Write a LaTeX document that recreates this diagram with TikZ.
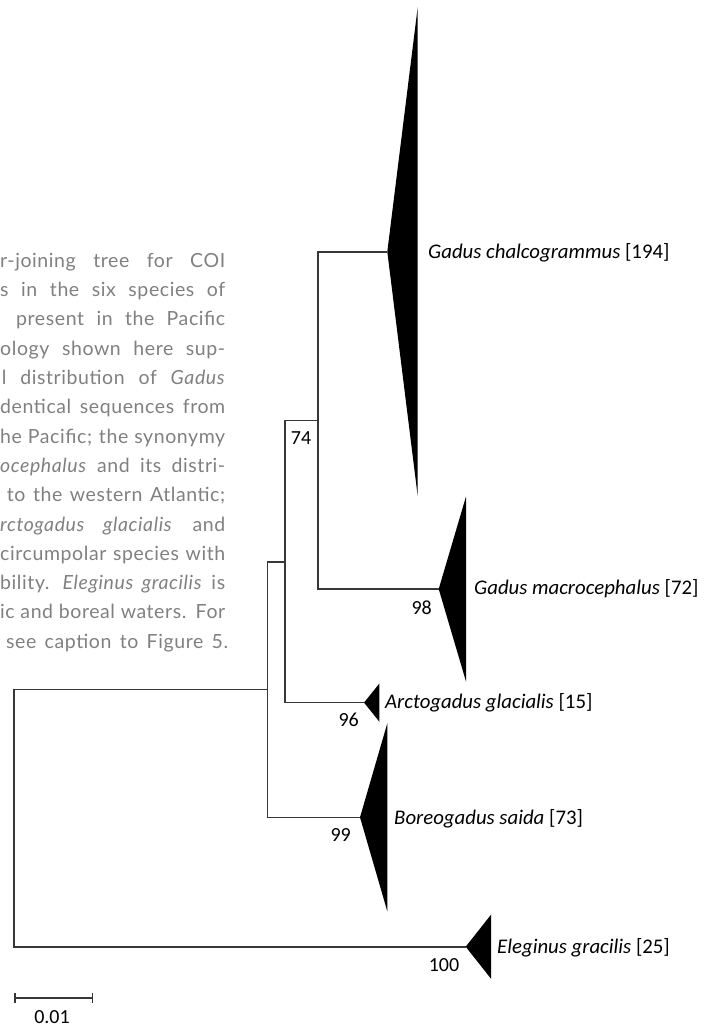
\documentclass[tikz,border=0pt]{standalone}
\usepackage{fontspec}
\setmainfont{Carlito}
\newfontfamily\capfont[LetterSpace=3,WordSpace=1.5]{Lato}
\usetikzlibrary{positioning}
\definecolor{capgrey}{RGB}{128,128,128}
\definecolor{branchgrey}{RGB}{55,55,55}
\tikzstyle{branch} = [draw=branchgrey, line width=1.6pt]
\tikzstyle{clade} = [fill=black]
\tikzstyle{taxon} = [anchor=base west, inner sep=0pt, font=\fontsize{20.8}{24}\selectfont]
\tikzstyle{boot} = [anchor=base, inner sep=0pt, font=\fontsize{20}{24}\selectfont]
\tikzstyle{capline} = [anchor=base west, inner sep=0pt, text=capgrey, font=\capfont\fontsize{19.5}{24}\selectfont]

\begin{document}
\begin{tikzpicture}[x=1pt,y=-1pt]
        \useasboundingbox (0,0) rectangle (716,1028);

        \foreach \i/\x/\t [evaluate=\x as \w using 225-\x] in {1/0/r-joining tree for COI,
                2/0/s in the six species of, 3/16/present in the Pacific,
                4/0/ology shown here sup-, 5/1.7/l distribution of \textit{Gadus},
                6/0/dentical sequences from, 7/0/he Pacific; the synonymy,
                8/0/\textit{ocephalus} and its distri-, 9/6.7/to the western Atlantic;,
                10/0/\textit{rctogadus glacialis} and, 11/0/circumpolar species with,
                12/0/bility. \textit{Eleginus gracilis} is, 13/0/ic and boreal waters. For}
        \node[capline] (Cap\i) at (\x,{267.3+29.3*(\i-1)}) {\makebox[\w pt][s]{\t}};
        \node[capline] (Cap14) at (0,648.2) {\makebox[228pt][r]{see caption to Figure 5.}};

        \coordinate (Root) at (14,818.2);
        \coordinate (NodeA) at (267.3,689.5);
        \coordinate (NodeB) at (284.7,561.7);
        \coordinate (NodeC) at (318,420.4);

        \coordinate (Chalco) at (387.3,251.7);
        \coordinate (Macro) at (438.7,589);
        \coordinate (Glacialis) at (364,702.6);
        \coordinate (Saida) at (360,817.3);
        \coordinate (Gracilis) at (465.7,946.7);

        \foreach \a/\b in {Root/NodeA, Root/Gracilis, NodeA/NodeB, NodeA/Saida,
                NodeB/NodeC, NodeB/Glacialis, NodeC/Chalco, NodeC/Macro}
        \draw[branch] (\a) |- (\b);

        \foreach \n/\w/\h in {Chalco/30.4/244.5, Macro/27.3/92.5, Glacialis/15.3/19,
                Saida/27.3/94, Gracilis/25.3/32}
        \fill[clade] (\n) -- ++(\w,-\h) -- ++(0,{2*\h}) -- cycle;

        \node[taxon] (ChalcoName) at (428,258.5) {\textit{Gadus chalcogrammus} [194]};
        \node[taxon] (MacroName) at (474,594) {\textit{Gadus macrocephalus} [72]};
        \node[taxon] (GlacialisName) at (385,708.3) {\textit{Arctogadus glacialis} [15]};
        \node[taxon] (SaidaName) at (394,824) {\textit{Boreogadus saida} [73]};
        \node[taxon] (GracilisName) at (497,953) {\textit{Eleginus gracilis} [25]};

        \node[boot] (BootC) at (301,444) {74};
        \node[boot] (BootMacro) at (421.7,614.5) {98};
        \node[boot] (BootB) at (348.7,726.5) {96};
        \node[boot] (BootA) at (340.7,841.5) {99};
        \node[boot] (BootRoot) at (444,971.5) {100};

        \coordinate (BarL) at (14.3,997.7);
        \coordinate (BarR) at (93.3,997.7);
        \draw[branch, |-|] (BarL) -- (BarR);
        \node[boot] (BarLabel) at (52,1023) {0.01};

\end{tikzpicture}
\end{document}
